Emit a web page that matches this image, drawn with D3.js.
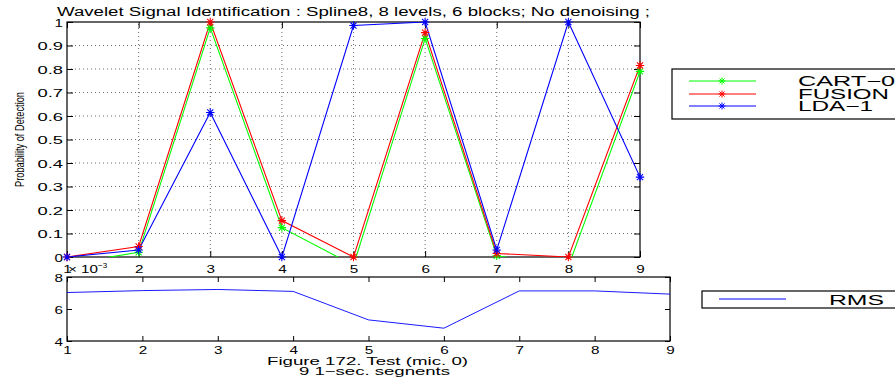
<!DOCTYPE html>
<html><head><meta charset="utf-8">
<script src="https://cdn.jsdelivr.net/npm/d3@7"></script>
<style>
html,body{margin:0;padding:0;background:#fff;}
svg{display:block;font-family:"Liberation Sans",Arial,Helvetica,sans-serif;}
</style></head>
<body>
<script>
// ---- data ----
const segments = [1,2,3,4,5,6,7,8,9];
const cart0  = [-0.03, 0.02, 0.975, 0.125, -0.035, 0.93, 0.005, -0.04, 0.79];
const fusion = [0, 0.045, 1.0, 0.155, 0, 0.955, 0.015, 0, 0.815];
const lda1   = [0, 0.03, 0.615, 0, 0.985, 1.0, 0.03, 1.0, 0.34];
const rms    = [7.03, 7.15, 7.22, 7.1, 5.32, 4.8, 7.13, 7.13, 6.93]; // x 10^-3
const seriesNames = ["CART\u22120", "FUSION", "LDA\u22121"];
const seriesColors = ["#00ff00", "#ff0000", "#0000ff"];
const topYTicks = [0,0.1,0.2,0.3,0.4,0.5,0.6,0.7,0.8,0.9,1];
const topYLabels = ["0","0.1","0.2","0.3","0.4","0.5","0.6","0.7","0.8","0.9","1"];
const botYTicks = [4,6,8];
const titleText = "Wavelet Signal Identification : Spline8, 8 levels, 6 blocks; No denoising ;";
const yLabelText = "Probability of Detection";
const xLabelLines = ["Figure 172. Test (mic. 0)", "9 1\u2212sec. segnents"];

const W = 895, H = 381;
const svg = d3.select("body").append("svg").attr("width", W).attr("height", H);

function tlen(s){ // approximate wide matlab-like glyph widths
  let w = 0;
  for (const c of s){ w += (c==="." ? 4.5 : 8.5); }
  return w + 2*(s.length-1);
}

// ---- top axes ----
const xT = d3.scaleLinear().domain([1,9]).range([67,640]);
const yT = d3.scaleLinear().domain([0,1]).range([257,22]);

svg.append("defs").append("clipPath").attr("id","clipTop")
  .append("rect").attr("x",67).attr("y",22).attr("width",573).attr("height",235);

const gTop = svg.append("g");
// grid
gTop.selectAll("line.gx").data(segments.slice(1,-1)).join("line")
  .attr("x1", d=>xT(d)).attr("x2", d=>xT(d)).attr("y1", yT(0)).attr("y2", yT(1))
  .attr("stroke","#444").attr("stroke-width",0.8).attr("stroke-dasharray","1,3");
gTop.selectAll("line.gy").data(topYTicks.slice(1,-1)).join("line")
  .attr("x1", xT(1)).attr("x2", xT(9)).attr("y1", d=>yT(d)).attr("y2", d=>yT(d))
  .attr("stroke","#444").attr("stroke-width",0.8).attr("stroke-dasharray","1,3");

function styleAxis(g){
  g.select(".domain").remove();
  g.selectAll(".tick line").attr("stroke","#000").attr("stroke-width",1);
}
// axes with inside ticks
const axB = gTop.append("g").attr("transform",`translate(0,${yT(0)})`)
  .call(d3.axisBottom(xT).tickValues(segments).tickSize(-6).tickPadding(10).tickFormat(d3.format("d")));
const axTp = gTop.append("g").attr("transform",`translate(0,${yT(1)})`)
  .call(d3.axisTop(xT).tickValues(segments).tickSize(-6).tickFormat(""));
const axL = gTop.append("g").attr("transform",`translate(${xT(1)},0)`)
  .call(d3.axisLeft(yT).tickValues(topYTicks).tickSize(-6).tickPadding(10).tickFormat((d,i)=>topYLabels[i]));
const axR = gTop.append("g").attr("transform",`translate(${xT(9)},0)`)
  .call(d3.axisRight(yT).tickValues(topYTicks).tickSize(-6).tickFormat(""));
[axB,axTp,axL,axR].forEach(styleAxis);
axB.selectAll("text").attr("font-size",11).attr("fill","#000")
  .attr("font-family","Liberation Sans, Arial, sans-serif")
  .attr("dy",null).attr("y",12).attr("dominant-baseline","central")
  .attr("textLength", function(){return tlen(this.textContent);}).attr("lengthAdjust","spacingAndGlyphs");
axL.selectAll("text").attr("font-size",11).attr("fill","#000")
  .attr("font-family","Liberation Sans, Arial, sans-serif")
  .attr("x",-4).attr("dy",null).attr("dominant-baseline","central")
  .attr("textLength", function(){return tlen(this.textContent);}).attr("lengthAdjust","spacingAndGlyphs");

gTop.append("rect").attr("x",xT(1)).attr("y",yT(1)).attr("width",xT(9)-xT(1)).attr("height",yT(0)-yT(1))
  .attr("fill","none").attr("stroke","#000").attr("stroke-width",1.2);

// star marker path
function star(r){
  const d = r*0.72;
  return `M${-r},0L${r},0M0,${-r}L0,${r}M${-d},${-d}L${d},${d}M${-d},${d}L${d},${-d}`;
}
const allSeries = [cart0, fusion, lda1];
const plotG = gTop.append("g").attr("clip-path","url(#clipTop)");
const markG = gTop.append("g");
const line = d3.line().x((d,i)=>xT(segments[i])).y(d=>yT(d));
allSeries.forEach((vals,k)=>{
  plotG.append("path").datum(vals).attr("d", line)
    .attr("fill","none").attr("stroke",seriesColors[k]).attr("stroke-width",1.1);
  markG.selectAll(null).data(vals.map((v,i)=>({v,i})).filter(p=>p.v>=0)).join("path")
    .attr("transform",p=>`translate(${xT(segments[p.i])},${yT(p.v)})`)
    .attr("d", star(4.2)).attr("stroke",seriesColors[k]).attr("stroke-width",1.1).attr("fill","none");
});

// title
svg.append("text").attr("x",57).attr("y",16).attr("font-size",12.5)
  .attr("textLength",593).attr("lengthAdjust","spacingAndGlyphs").text(titleText);
// y label
svg.append("text").attr("transform",`translate(24,${(yT(0)+yT(1))/2}) rotate(-90)`)
  .attr("text-anchor","middle").attr("font-size",12)
  .attr("font-family","Liberation Sans Narrow, Liberation Sans, Arial, sans-serif")
  .attr("textLength",95).attr("lengthAdjust","spacingAndGlyphs").text(yLabelText);

// top legend
const lg = svg.append("g");
lg.append("rect").attr("x",672).attr("y",69).attr("width",240).attr("height",50)
  .attr("fill","#fff").attr("stroke","#000").attr("stroke-width",1.2);
const legY = [81, 94, 106];
const legLen = [97, 91, 75];
seriesNames.forEach((n,k)=>{
  lg.append("line").attr("x1",689).attr("x2",756).attr("y1",legY[k]).attr("y2",legY[k])
    .attr("stroke",seriesColors[k]).attr("stroke-width",1.1);
  lg.append("path").attr("transform",`translate(722,${legY[k]})`).attr("d",star(3.5))
    .attr("stroke",seriesColors[k]).attr("fill","none");
  lg.append("text").attr("x",798).attr("y",legY[k]+5).attr("font-size",14)
    .attr("textLength",legLen[k]).attr("lengthAdjust","spacingAndGlyphs").text(n);
});

// ---- bottom axes ----
const xB = d3.scaleLinear().domain([1,9]).range([67,670]);
const yB = d3.scaleLinear().domain([4,8]).range([341,277]);
const gBot = svg.append("g");
const bB = gBot.append("g").attr("transform",`translate(0,${yB(4)})`)
  .call(d3.axisBottom(xB).tickValues(segments).tickSize(-5).tickFormat(d3.format("d")));
const bT = gBot.append("g").attr("transform",`translate(0,${yB(8)})`)
  .call(d3.axisTop(xB).tickValues(segments).tickSize(-5).tickFormat(""));
const bL = gBot.append("g").attr("transform",`translate(${xB(1)},0)`)
  .call(d3.axisLeft(yB).tickValues(botYTicks).tickSize(-5).tickFormat(d3.format("d")));
const bR = gBot.append("g").attr("transform",`translate(${xB(9)},0)`)
  .call(d3.axisRight(yB).tickValues(botYTicks).tickSize(-5).tickFormat(""));
[bB,bT,bL,bR].forEach(styleAxis);
bB.selectAll("text").attr("font-size",11).attr("fill","#000")
  .attr("font-family","Liberation Sans, Arial, sans-serif")
  .attr("dy",null).attr("y",8.5).attr("dominant-baseline","central")
  .attr("textLength", function(){return tlen(this.textContent);}).attr("lengthAdjust","spacingAndGlyphs");
bL.selectAll("text").attr("font-size",11).attr("fill","#000")
  .attr("font-family","Liberation Sans, Arial, sans-serif")
  .attr("x",-4).attr("dy",null).attr("dominant-baseline","central")
  .attr("textLength", function(){return tlen(this.textContent);}).attr("lengthAdjust","spacingAndGlyphs");
gBot.append("rect").attr("x",xB(1)).attr("y",yB(8)).attr("width",xB(9)-xB(1)).attr("height",yB(4)-yB(8))
  .attr("fill","none").attr("stroke","#000").attr("stroke-width",1.2);
const lineB = d3.line().x((d,i)=>xB(segments[i])).y(d=>yB(d));
gBot.append("path").datum(rms).attr("d",lineB).attr("fill","none").attr("stroke","#0000ff").attr("stroke-width",0.9);

// exponent label
const ex = svg.append("text").attr("x",68).attr("y",273).attr("font-size",11);
ex.append("tspan").attr("textLength",30).attr("lengthAdjust","spacingAndGlyphs").text("\u00d7 10");
ex.append("tspan").attr("dy",-5).attr("font-size",8).text("\u22123");

// x label
svg.append("text").attr("x",267).attr("y",365).attr("font-size",11)
  .attr("textLength",201).attr("lengthAdjust","spacingAndGlyphs").text(xLabelLines[0]);
svg.append("text").attr("x",299).attr("y",375).attr("font-size",11)
  .attr("textLength",151).attr("lengthAdjust","spacingAndGlyphs").text(xLabelLines[1]);

// bottom legend
svg.append("rect").attr("x",702).attr("y",291).attr("width",220).attr("height",17)
  .attr("fill","#fff").attr("stroke","#000").attr("stroke-width",1.2);
svg.append("line").attr("x1",719).attr("x2",786).attr("y1",299).attr("y2",299)
  .attr("stroke","#0000ff").attr("stroke-width",1.1);
svg.append("text").attr("x",829).attr("y",304.5).attr("font-size",14)
  .attr("textLength",55).attr("lengthAdjust","spacingAndGlyphs").text("RMS");
</script>
</body></html>
